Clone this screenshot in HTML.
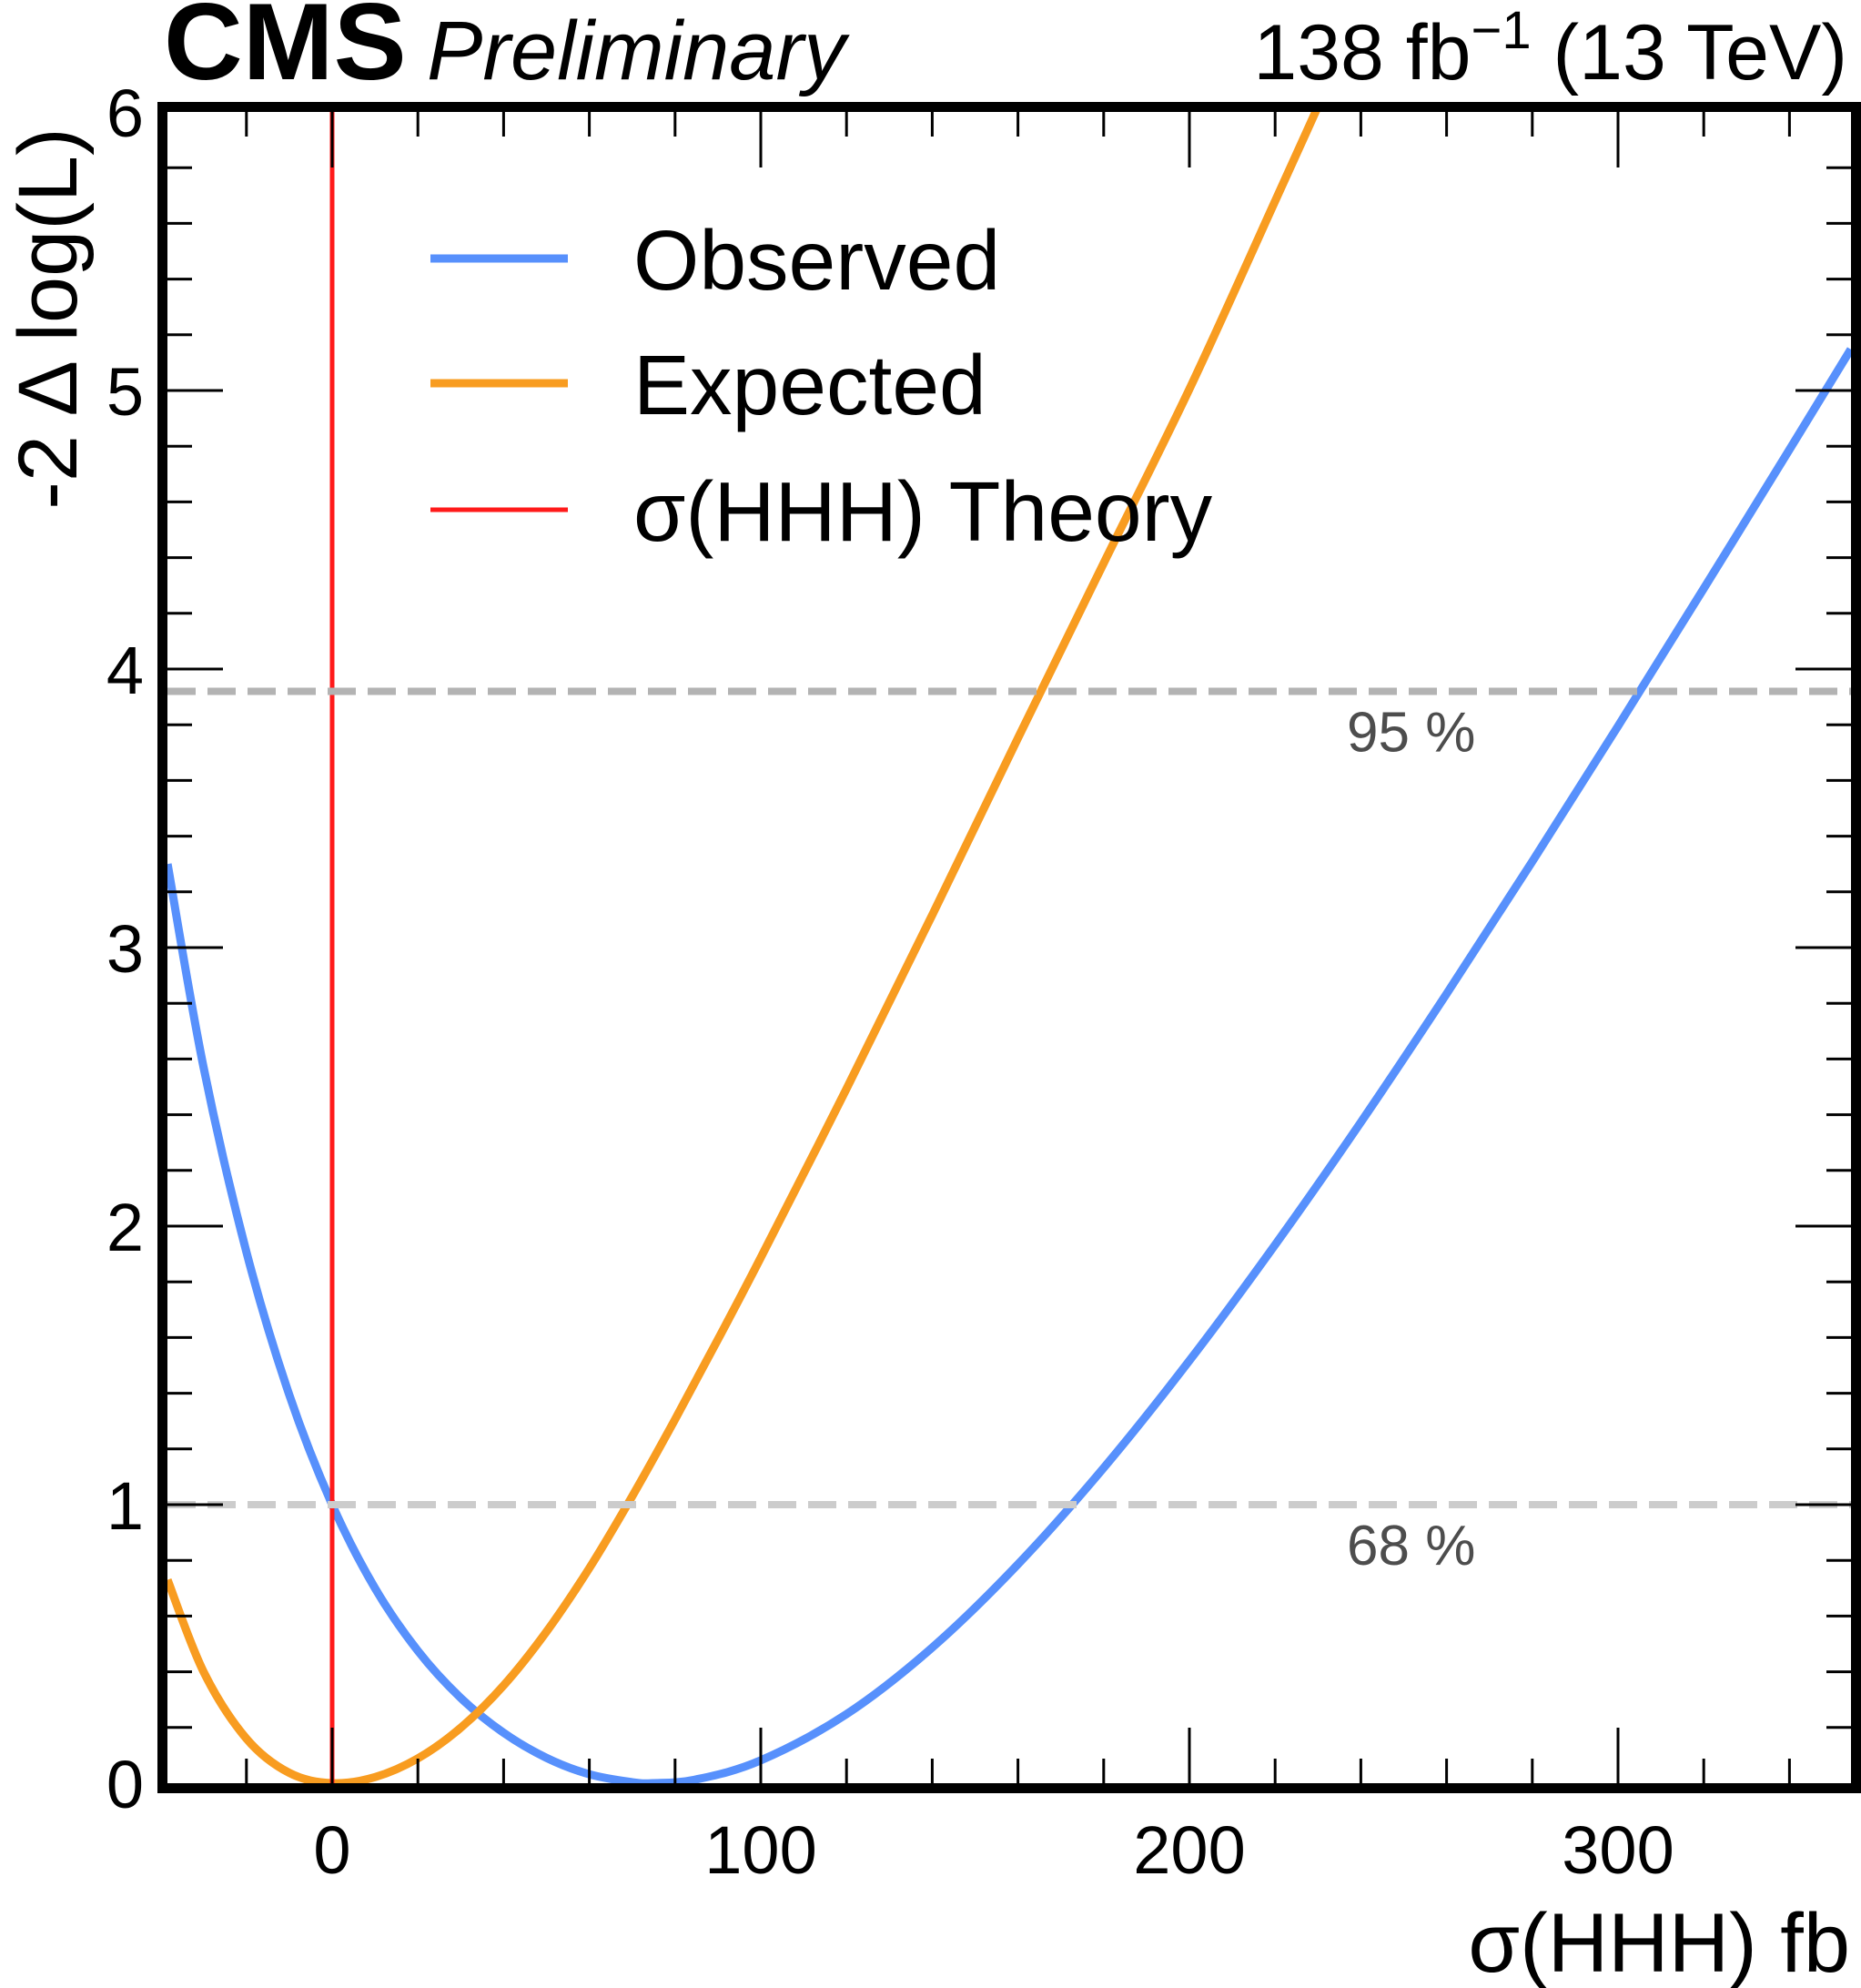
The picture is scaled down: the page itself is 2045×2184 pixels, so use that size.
<!DOCTYPE html>
<html><head><meta charset="utf-8"><style>
html,body{margin:0;padding:0;background:#fff;}
svg{display:block;font-family:"Liberation Sans",Arial,sans-serif;}
</style></head><body>
<svg id="chart" width="2045" height="2184" viewBox="0 0 2045 2184">
<defs><clipPath id="plotclip"><rect x="184" y="123" width="1850" height="1836"/></clipPath></defs>
<g id="marks" clip-path="url(#plotclip)"></g>
<g id="axes"></g>
<text x="180" y="87" font-size="120" font-weight="bold">CMS</text>
<text x="469" y="87" font-size="92" font-style="italic">Preliminary</text>
<text x="2030" y="87" font-size="86" text-anchor="end">138 fb<tspan dy="-34" font-size="58">−1</tspan><tspan dy="34"> (13 TeV)</tspan></text>
<text transform="translate(84,350) rotate(-90)" font-size="92" text-anchor="middle">-2 Δ log(L)</text>
<text x="2033" y="2166" font-size="92" text-anchor="end">σ(HHH) fb</text>
<g>
<line x1="473" y1="284" x2="624" y2="284" stroke="#5790fc" stroke-width="9"/>
<text x="696" y="318" font-size="93">Observed</text>
<line x1="473" y1="421" x2="624" y2="421" stroke="#f89c20" stroke-width="9"/>
<text x="696" y="455" font-size="93">Expected</text>
<line x1="473" y1="560" x2="624" y2="560" stroke="#ff1a1a" stroke-width="5"/>
<text x="696" y="594" font-size="93">σ(HHH) Theory</text>
</g>
</svg>
<script>
const obsX = [-38.4,-30,-20,-10,0,10,20,30,40,50,60,70,75,85,100,120,140,160,180,200,220,240,260,280,300,320,340,354.3];
const obsY = [3.30,2.570,1.907,1.394,1.0,0.700,0.475,0.306,0.181,0.091,0.032,0.0035,0.0,0.0137,0.082,0.248,0.487,0.786,1.132,1.517,1.933,2.373,2.834,3.309,3.795,4.289,4.788,5.148];
const expX = [-38.4,-30,-20,-10,0,10,20,30,40,50,60,70,80,90,100,120,140,160,180,200,220,240];
const expY = [0.73,0.40,0.16,0.037,0.0,0.022,0.089,0.199,0.351,0.544,0.772,1.03,1.306,1.593,1.887,2.493,3.117,3.752,4.38,5.005,5.68,6.36];
const theoryX = [0];
const clLevels = [3.92,1.0];
const clLabels = ["95 %","68 %"];
const clColors = ["#b3b3b3","#cccccc"];
const xTickLabels = [0,100,200,300];
const yTickLabels = [0,1,2,3,4,5,6];

const X0=184,X1=2034,Y0=1959,Y1=123;
const ymin=0,ymax=6,xmax=354.3;
const sx=v=>365+v*4.71;
const sy=v=>Y0-(v-ymin)*(Y0-Y1)/(ymax-ymin);
const NS="http://www.w3.org/2000/svg";
function mk(tag,attrs,parent){const e=document.createElementNS(NS,tag);for(const k in attrs)e.setAttribute(k,attrs[k]);parent.appendChild(e);return e;}
function smoothPath(xs,ys){
  const p=xs.map((x,i)=>[sx(x),sy(ys[i])]);
  let d="M"+p[0][0]+","+p[0][1];
  for(let i=0;i<p.length-1;i++){
    const p0=p[i-1]||p[i],p1=p[i],p2=p[i+1],p3=p[i+2]||p2;
    const c1=[p1[0]+(p2[0]-p0[0])/6,p1[1]+(p2[1]-p0[1])/6];
    const c2=[p2[0]-(p3[0]-p1[0])/6,p2[1]-(p3[1]-p1[1])/6];
    d+=" C"+c1[0]+","+c1[1]+" "+c2[0]+","+c2[1]+" "+p2[0]+","+p2[1];
  }
  return d;
}
const marks=document.getElementById('marks');
const axes=document.getElementById('axes');
const o=mk('path',{d:smoothPath(obsX,obsY),fill:'none',stroke:'#5790fc','stroke-width':9,'stroke-linejoin':'round'},marks);


const e=mk('path',{d:smoothPath(expX,expY),fill:'none',stroke:'#f89c20','stroke-width':9,'stroke-linejoin':'round'},marks);


theoryX.forEach(t=>{
  const l=mk('line',{x1:sx(t),x2:sx(t),y1:Y1,y2:Y0,stroke:'#ff1a1a','stroke-width':5},marks);
  
  
});
clLevels.forEach((lv,i)=>{
  const l=mk('line',{x1:X0,x2:X1,y1:sy(lv),y2:sy(lv),stroke:clColors[i],'stroke-width':8,'stroke-dasharray':'31 13'},marks);
  
  
  const t=mk('text',{x:1480,y:sy(lv)+66,'font-size':62,fill:'#4d4d4d'},axes);
  t.textContent=clLabels[i];
  
  
});
for(let v=-20;v<=xmax;v+=20){
  const major=(v%100===0);const L=major?61:27;const x=sx(v);
  mk('line',{x1:x,x2:x,y1:Y0,y2:Y0-L,stroke:'#000','stroke-width':3},axes);
  mk('line',{x1:x,x2:x,y1:Y1,y2:Y1+L,stroke:'#000','stroke-width':3},axes);
}
for(let k=1;k<30;k++){
  const v=k*0.2;const major=(k%5===0);const L=major?61:27;const y=sy(v);
  mk('line',{x1:X0,x2:X0+L,y1:y,y2:y,stroke:'#000','stroke-width':3},axes);
  mk('line',{x1:X1,x2:X1-L,y1:y,y2:y,stroke:'#000','stroke-width':3},axes);
}
xTickLabels.forEach(v=>{
  const t=mk('text',{x:sx(v),y:2058,'font-size':74,'text-anchor':'middle'},axes);
  t.textContent=v;
  
  
});
yTickLabels.forEach(v=>{
  const t=mk('text',{x:158,y:sy(v)+27,'font-size':74,'text-anchor':'end'},axes);
  t.textContent=v;
  
  
});
const fr=mk('rect',{x:X0-5.5,y:Y1-5.5,width:X1-X0+11,height:Y0-Y1+11,fill:'none',stroke:'#000','stroke-width':11},axes);


</script>
</body></html>
